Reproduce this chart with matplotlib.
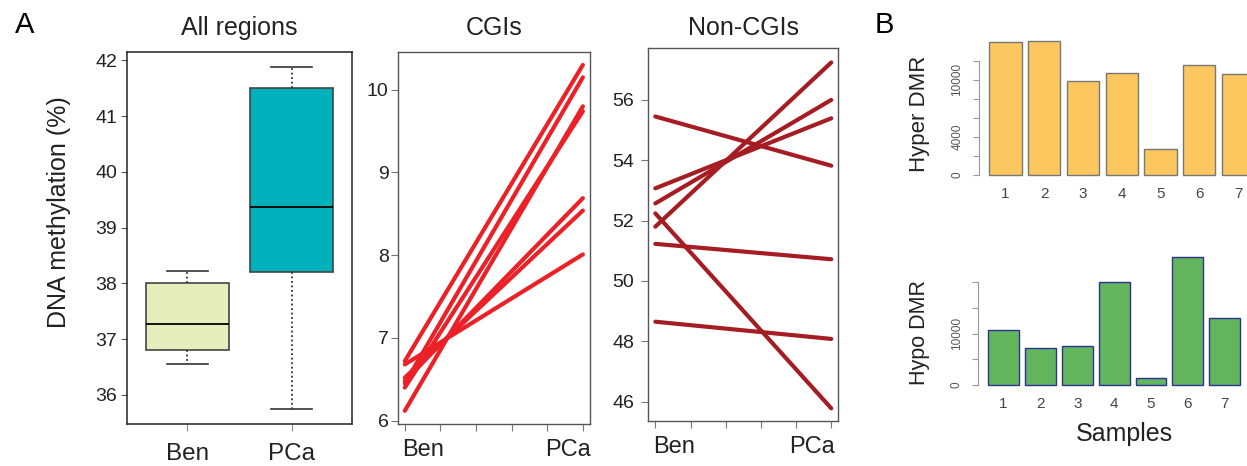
import numpy as np
import matplotlib.pyplot as plt
from matplotlib.ticker import FixedLocator, FixedFormatter

plt.rcParams['font.family'] = ['Liberation Sans', 'DejaVu Sans']

W, H = 1247, 466

# panel A, box plot summary (all regions)
box_groups = ['Ben', 'PCa']
box_low = [36.55, 35.75]
box_q1 = [36.80, 38.20]
box_med = [37.28, 39.37]
box_q3 = [38.00, 41.50]
box_high = [38.22, 41.88]
box_colors = ['#E5EDBD', '#00B0BA']

# paired samples Ben -> PCa
cgi_ben = [6.72, 6.45, 6.12, 6.40, 6.68, 6.48, 6.52]
cgi_pca = [10.30, 10.15, 9.80, 9.74, 8.01, 8.69, 8.54]
noncgi_ben = [55.45, 53.07, 52.57, 51.80, 52.24, 51.23, 48.65]
noncgi_pca = [53.82, 55.39, 56.00, 57.24, 45.78, 50.72, 48.08]

# panel B
samples = ['1', '2', '3', '4', '5', '6', '7']
hyper_dmr = [13950, 14050, 9900, 10740, 2730, 11515, 10570]
hypo_dmr = [10640, 7200, 7650, 19980, 1420, 24850, 13100]

fig = plt.figure(figsize=(W / 100, H / 100), dpi=100)


def px_axes(l, t, r, b):
    return fig.add_axes([l / W, 1 - b / H, (r - l) / W, (b - t) / H])


def fig_text(x, y, s, **kw):
    fig.text(x / W, 1 - y / H, s, **kw)


# ---- box plot
ax1 = px_axes(127, 52, 352, 424)
stats = []
for i in range(len(box_groups)):
    stats.append(dict(whislo=box_low[i], q1=box_q1[i], med=box_med[i],
                      q3=box_q3[i], whishi=box_high[i], fliers=[]))
bp = ax1.bxp(stats, positions=[1, 2], widths=0.8, patch_artist=True,
             showfliers=False, capwidths=0.4,
             boxprops=dict(edgecolor='#444444', linewidth=1.2),
             medianprops=dict(color='black', linewidth=1.3),
             whiskerprops=dict(color='#333333', linestyle=(0, (1, 1.5)), linewidth=1.3),
             capprops=dict(color='#333333', linewidth=1.2))
for patch, c in zip(bp['boxes'], box_colors):
    patch.set_facecolor(c)
ax1.set_xlim(0.42, 2.58)
ax1.set_ylim(35.48, 42.15)
ax1.set_yticks(range(36, 43))
ax1.set_xticks([1, 2])
ax1.set_xticklabels(box_groups)
ax1.tick_params(axis='y', labelsize=14, length=4, pad=3, color='#555555', labelcolor='#222222')
ax1.tick_params(axis='x', labelsize=17.5, length=5, pad=9, color='#888888', labelcolor='#222222')
for s in ax1.spines.values():
    s.set_color('#222222')
    s.set_linewidth(1.1)


def paired(ax, ben, pca, color, ylim, yticks, lab_pos, pad):
    for b, p in zip(ben, pca):
        ax.plot([1, 2], [b, p], color=color, lw=3, solid_capstyle='round')
    ax.set_xlim(0.96, 2.04)
    ax.set_ylim(*ylim)
    ax.set_yticks(yticks)
    ax.xaxis.set_major_locator(FixedLocator(np.linspace(1, 2, 6)))
    ax.xaxis.set_major_formatter(FixedFormatter([''] * 6))
    ax.xaxis.set_minor_locator(FixedLocator(lab_pos))
    ax.xaxis.set_minor_formatter(FixedFormatter(['Ben', 'PCa']))
    ax.tick_params(axis='x', which='major', length=5, color='#777777')
    ax.tick_params(axis='x', which='minor', length=0, pad=11, labelsize=17, labelcolor='#222222')
    ax.tick_params(axis='y', labelsize=14, length=5, pad=pad, color='#777777', labelcolor='#222222')
    for s in ax.spines.values():
        s.set_color('#555555')
        s.set_linewidth(1.0)


ax2 = px_axes(397.7, 51.7, 590, 424)
paired(ax2, cgi_ben, cgi_pca, '#EC2128', (5.96, 10.46), range(6, 11), [1.104, 1.919], 1.5)

ax3 = px_axes(648.3, 48.3, 838.3, 421)
paired(ax3, noncgi_ben, noncgi_pca, '#A51D22', (45.36, 57.71), range(46, 57, 2), [1.104, 1.891], 5)


def dmr_bars(ax, vals, color, edge, ylim, yticks, ylabels, top):
    x = 0.7 + 1.2 * np.arange(len(vals))
    ax.bar(x, vals, width=1, color=color, edgecolor=edge, linewidth=1)
    ax.set_xlim(-0.128, 8.728)
    ax.set_ylim(*ylim)
    for k in ['top', 'right', 'bottom']:
        ax.spines[k].set_visible(False)
    ax.spines['left'].set_bounds(0, top)
    ax.spines['left'].set_color('#999999')
    ax.set_yticks(yticks)
    ax.set_yticklabels(ylabels, rotation=90, va='center')
    ax.tick_params(axis='y', length=4, pad=7, labelsize=8.5, color='#999999', labelcolor='#555555')
    ax.set_xticks(x)
    ax.set_xticklabels(samples)
    ax.tick_params(axis='x', length=0, pad=5, labelsize=11, labelcolor='#444444')


ax4 = px_axes(978.7, 36.3, 1264.7, 180.3)
dmr_bars(ax4, hyper_dmr, '#FBC75E', '#777777', (-560, 14560),
         range(0, 12001, 2000), ['0', '', '4000', '', '', '10000', ''], 12000)

ax5 = px_axes(978.2, 251.4, 1250.1, 390.1)
dmr_bars(ax5, hypo_dmr, '#62B55D', '#2E3192', (-1000, 26000),
         range(0, 20001, 5000), ['0', '', '10000', '', ''], 20000)

# titles and labels
fig_text(15, 33, 'A', fontsize=21, va='baseline', ha='left')
fig_text(875, 33, 'B', fontsize=21, va='baseline', ha='left')
fig_text(239, 35, 'All regions', fontsize=18, va='baseline', ha='center', color='#222222')
fig_text(494, 35, 'CGIs', fontsize=18, va='baseline', ha='center', color='#222222')
fig_text(743, 35, 'Non-CGIs', fontsize=18, va='baseline', ha='center', color='#222222')
fig_text(59, 212.5, 'DNA methylation (%)', fontsize=18, rotation=90, va='center', ha='center', color='#222222')
fig_text(920, 114, 'Hyper DMR', fontsize=16, rotation=90, va='center', ha='center', color='#222222')
fig_text(920, 332.5, 'Hypo DMR', fontsize=15.5, rotation=90, va='center', ha='center', color='#222222')
fig_text(1124, 441, 'Samples', fontsize=18, va='baseline', ha='center', color='#222222')

fig.savefig('out.png', dpi=100)
